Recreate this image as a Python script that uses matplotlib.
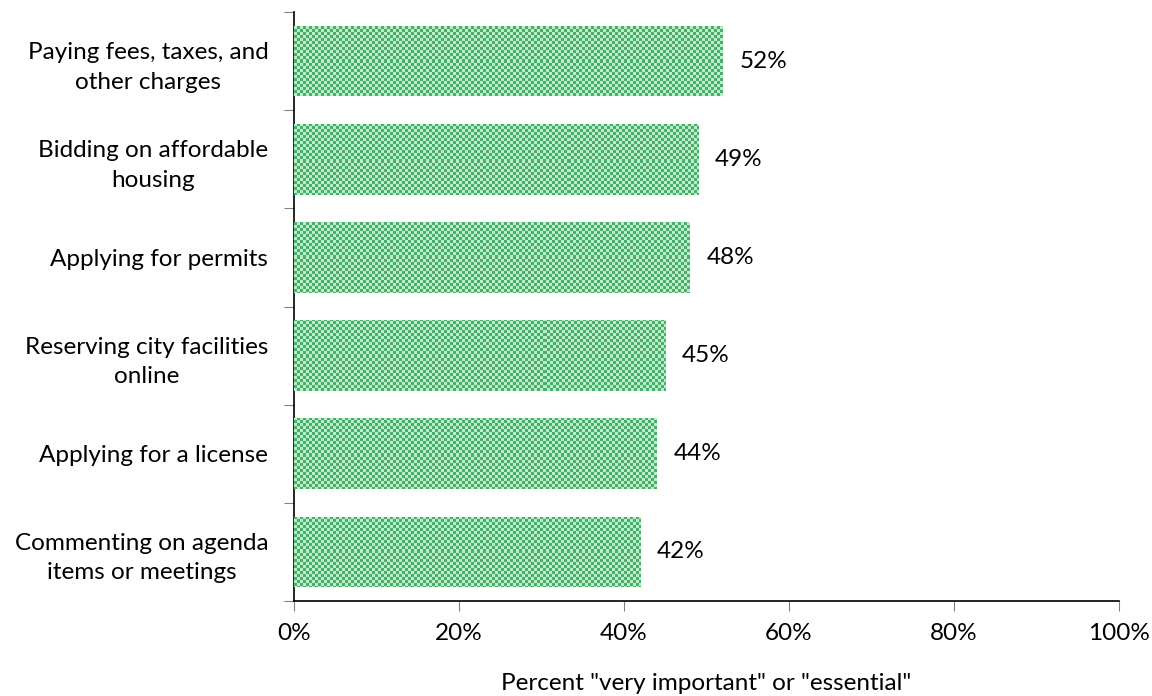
import numpy as np
import matplotlib
matplotlib.use("Agg")
import matplotlib.pyplot as plt
from matplotlib.colors import ListedColormap

categories = [
    "Paying fees, taxes, and\nother charges",
    "Bidding on affordable\nhousing",
    "Applying for permits",
    "Reserving city facilities\nonline",
    "Applying for a license",
    "Commenting on agenda\nitems or meetings",
]
values = [52, 49, 48, 45, 44, 42]
xticks = [0, 20, 40, 60, 80, 100]
xlabel = 'Percent "very important" or "essential"'

plt.rcParams["font.family"] = ["Lato", "DejaVu Sans"]
FS = 17.5

fig = plt.figure(figsize=(11.52, 6.96), dpi=100)
ax = fig.add_axes([294 / 1152, 1 - 601 / 696, 825 / 1152, 589 / 696])

n = len(categories)
ypos = np.arange(n)[::-1]
bars = ax.barh(ypos, values, height=0.72, color="#7fcf98", edgecolor="none", zorder=2)

# checkerboard texture clipped to each bar
cw, ch = 825 // 3, 589 // 3
ii, jj = np.indices((ch, cw))
board = (ii + jj) % 2
cmap = ListedColormap(["#4aab73", "#b8f0bf"])
for b in bars:
    im = ax.imshow(board, cmap=cmap, extent=(0, 100, -0.5, n - 0.5),
                   aspect="auto", interpolation="nearest", zorder=3)
    im.set_clip_path(b)

for y, v in zip(ypos, values):
    ax.text(v + 2, y, f"{v}%", va="center", ha="left", fontsize=FS)

ax.set_xlim(0, 100)
ax.set_ylim(-0.5, n - 0.5)
ax.set_xticks(xticks)
ax.set_xticklabels([f"{t}%" for t in xticks], fontsize=FS)
ax.set_yticks(np.arange(-0.5, n, 1.0))
ax.set_yticklabels([])
ax.set_yticks(ypos, minor=True)
ax.set_yticklabels(categories, minor=True, fontsize=FS, ha="right",
                   multialignment="center", linespacing=1.5)
ax.tick_params(axis="y", which="minor", length=0, pad=18.5)
ax.tick_params(axis="y", which="major", length=7, color="#808080", direction="out")
ax.tick_params(axis="x", length=7, color="#808080", pad=9)
ax.set_xlabel(xlabel, fontsize=FS, labelpad=21)

for s in ("top", "right"):
    ax.spines[s].set_visible(False)
ax.spines["left"].set_color("black")
ax.spines["bottom"].set_color("black")
ax.spines["left"].set_linewidth(1.2)
ax.spines["bottom"].set_linewidth(1.2)

fig.savefig("out.png", dpi=100)
